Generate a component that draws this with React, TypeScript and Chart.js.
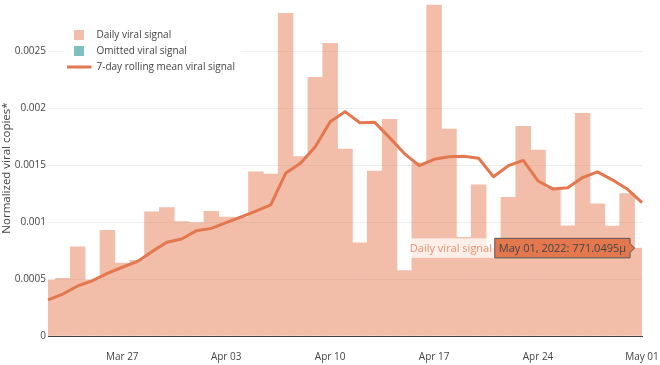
import React, { useEffect, useRef } from 'react';
import { Chart, registerables } from 'chart.js';

Chart.register(...registerables);

const dates = [
  '2022-03-22', '2022-03-23', '2022-03-24', '2022-03-25', '2022-03-26', '2022-03-27', '2022-03-28',
  '2022-03-29', '2022-03-30', '2022-03-31', '2022-04-01', '2022-04-02', '2022-04-03', '2022-04-04',
  '2022-04-05', '2022-04-06', '2022-04-07', '2022-04-08', '2022-04-09', '2022-04-10', '2022-04-11',
  '2022-04-12', '2022-04-13', '2022-04-14', '2022-04-15', '2022-04-16', '2022-04-17', '2022-04-18',
  '2022-04-19', '2022-04-20', '2022-04-21', '2022-04-22', '2022-04-23', '2022-04-24', '2022-04-25',
  '2022-04-26', '2022-04-27', '2022-04-28', '2022-04-29', '2022-04-30', '2022-05-01',
];

const dailySignal = [
  0.00049, 0.000506, 0.000783, 0.00049, 0.000927, 0.00064, 0.000664,
  0.00109, 0.001126, 0.001003, 0.000994, 0.001094, 0.001044, 0.001038,
  0.00144, 0.00142, 0.00283, 0.001573, 0.00227, 0.002567, 0.00164,
  0.000818, 0.001447, 0.0019, 0.000573, 0.00152, 0.0029035, 0.001816,
  0.000866, 0.001325, 0.00077, 0.001216, 0.00184, 0.00163, 0.0013,
  0.000967, 0.001953, 0.00116, 0.000965, 0.00125, 0.0007710495,
];

const rollingMean = [
  0.000316, 0.000368, 0.000439, 0.000485, 0.00055, 0.000603, 0.000652,
  0.00074, 0.000822, 0.000851, 0.000924, 0.000944, 0.000994, 0.001044,
  0.001096, 0.00115, 0.001427, 0.001515, 0.00166, 0.00188, 0.001968,
  0.001871, 0.001874, 0.00174, 0.0016, 0.001494, 0.00155, 0.001573,
  0.001576, 0.001559, 0.001397, 0.001494, 0.00154, 0.00136, 0.00129,
  0.0013, 0.00139, 0.00144, 0.00137, 0.00129, 0.00117,
];

const omittedSignal: (number | null)[] = [];

const tickDates = ['2022-03-27', '2022-04-03', '2022-04-10', '2022-04-17', '2022-04-24', '2022-05-01'];
const tickLabels = ['Mar 27', 'Apr 03', 'Apr 10', 'Apr 17', 'Apr 24', 'May 01'];

const yTicks = [0, 0.0005, 0.001, 0.0015, 0.002, 0.0025];
const yTickLabels = ['0', '0.0005', '0.001', '0.0015', '0.002', '0.0025'];

const monthNames = ['Jan', 'Feb', 'Mar', 'Apr', 'May', 'Jun', 'Jul', 'Aug', 'Sep', 'Oct', 'Nov', 'Dec'];

const LINE_COLOR = '#E3784F';
const BAR_COLOR = '#F2BEAA';
const TEAL = '#7CC0BF';
const TEXT = '#444';
const FONT = '"Open Sans", "Noto Sans", sans-serif';

function formatHoverDate(d: string) {
  const [y, m, day] = d.split('-');
  return `${monthNames[parseInt(m, 10) - 1]} ${day}, ${y}`;
}

const overlayPlugin = {
  id: 'overlay',
  // faint grid lines showing through the bars (drawn before the line dataset)
  beforeDatasetDraw(chart: any, args: any) {
    if (args.index !== 0) return;
    const ctx = chart.ctx as CanvasRenderingContext2D;
    const { left, right } = chart.chartArea;
    const ys = chart.scales.y;
    ctx.save();
    ctx.strokeStyle = 'rgba(0,0,0,0.04)';
    ctx.lineWidth = 1;
    yTicks.forEach((v) => {
      if (v === 0) return;
      const py = Math.round(ys.getPixelForValue(v)) + 0.5;
      ctx.beginPath();
      ctx.moveTo(left, py);
      ctx.lineTo(right, py);
      ctx.stroke();
    });
    ctx.restore();
  },
  afterDraw(chart: any) {
    const ctx = chart.ctx as CanvasRenderingContext2D;
    ctx.save();

    // Legend (inside plot, top-left)
    ctx.fillStyle = '#fff';
    ctx.fillRect(63, 25, 178, 50);
    const legendOrder = [1, 2, 0];
    const rowsY = [35, 51, 67];
    ctx.font = `10px ${FONT}`;
    ctx.textBaseline = 'middle';
    ctx.textAlign = 'left';
    legendOrder.forEach((di, r) => {
      const ds = chart.data.datasets[di];
      const y = rowsY[r];
      if (ds.type === 'line') {
        ctx.strokeStyle = ds.borderColor;
        ctx.lineWidth = 3;
        ctx.beginPath();
        ctx.moveTo(67, y);
        ctx.lineTo(91.5, y);
        ctx.stroke();
      } else {
        ctx.fillStyle = ds.backgroundColor;
        ctx.fillRect(74, y - 5, 10, 10);
      }
      ctx.fillStyle = TEXT;
      ctx.fillText(ds.label, 96.5, y);
    });

    // Hover label on the last bar
    const barIdx = 1;
    const meta = chart.getDatasetMeta(barIdx);
    const last = dailySignal.length - 1;
    const el = meta.data[last];
    if (el) {
      const p = el.getProps(['x', 'y', 'width'], true);
      const ax = p.x - p.width / 2;
      const ay = p.y;
      ctx.font = `11px ${FONT}`;
      const valText = `${formatHoverDate(dates[last])}: ${(dailySignal[last] * 1e6).toFixed(4)}\u00b5`;
      const tw = ctx.measureText(valText).width;
      const h = 19.5;
      const top = ay - h / 2;
      const boxR = ax - 4.5;
      const boxL = boxR - tw - 8;

      const name = chart.data.datasets[barIdx].label;
      const nw = ctx.measureText(name).width;
      const nameL = boxL - nw - 5.5;
      ctx.fillStyle = 'rgba(255,255,255,0.75)';
      ctx.fillRect(nameL, top, boxL - nameL, h);
      ctx.fillStyle = 'rgba(227,120,79,0.8)';
      ctx.fillText(name, nameL + 2.7, ay + 0.5);

      ctx.beginPath();
      ctx.moveTo(ax, ay);
      ctx.lineTo(boxR, ay - 4.5);
      ctx.lineTo(boxR, top);
      ctx.lineTo(boxL, top);
      ctx.lineTo(boxL, top + h);
      ctx.lineTo(boxR, top + h);
      ctx.lineTo(boxR, ay + 4.5);
      ctx.closePath();
      ctx.fillStyle = LINE_COLOR;
      ctx.fill();
      ctx.strokeStyle = '#555';
      ctx.lineWidth = 1;
      ctx.stroke();
      ctx.fillStyle = TEXT;
      ctx.fillText(valText, boxL + 4, ay + 0.5);
    }
    ctx.restore();
  },
};

export default function App() {
  const canvasRef = useRef<HTMLCanvasElement | null>(null);

  useEffect(() => {
    if (!canvasRef.current) return;
    const chart = new Chart(canvasRef.current, {
      type: 'bar',
      data: {
        labels: dates,
        datasets: [
          {
            type: 'line',
            label: '7-day rolling mean viral signal',
            data: rollingMean,
            borderColor: LINE_COLOR,
            backgroundColor: LINE_COLOR,
            borderWidth: 3,
            pointRadius: 0,
            pointHoverRadius: 0,
            tension: 0,
            fill: false,
            borderJoinStyle: 'round',
            order: 0,
          } as any,
          {
            type: 'bar',
            label: 'Daily viral signal',
            data: dailySignal,
            backgroundColor: BAR_COLOR,
            borderWidth: 0,
            barPercentage: 1,
            categoryPercentage: 1,
            grouped: false,
            order: 1,
          } as any,
          {
            type: 'bar',
            label: 'Omitted viral signal',
            data: omittedSignal,
            backgroundColor: TEAL,
            borderWidth: 0,
            barPercentage: 1,
            categoryPercentage: 1,
            grouped: false,
            order: 2,
          } as any,
        ],
      },
      options: {
        responsive: false,
        animation: false,
        devicePixelRatio: 1,
        layout: { padding: { top: 0, right: 18, bottom: 0, left: 0 } },
        plugins: {
          legend: { display: false },
          tooltip: { enabled: false },
        },
        events: [],
        scales: {
          x: {
            type: 'category',
            offset: false,
            grid: { display: false, drawTicks: false, offset: false },
            border: { display: true, color: TEXT, width: 1 },
            ticks: {
              autoSkip: false,
              maxRotation: 0,
              minRotation: 0,
              padding: 15,
              color: TEXT,
              font: { family: FONT, size: 10 },
              callback: (value: any) => {
                const i = tickDates.indexOf(dates[value as number]);
                return i >= 0 ? tickLabels[i] : '';
              },
            },
            afterBuildTicks: (scale: any) => {
              scale.ticks = scale.ticks.filter((t: any) => tickDates.includes(dates[t.value]));
            },
            afterFit: (scale: any) => {
              scale.height = 29;
              scale.paddingLeft = 0;
              scale.paddingRight = 0;
            },
          },
          y: {
            type: 'linear',
            min: 0,
            max: 0.0029474,
            grid: {
              drawTicks: false,
              color: (c: any) => (c.tick && c.tick.value === 0 ? TEXT : '#f7f7f7'),
              lineWidth: 1,
            },
            border: { display: false },
            ticks: {
              padding: 2,
              color: TEXT,
              font: { family: FONT, size: 10 },
              callback: (_v: any, index: number) => yTickLabels[index],
            },
            title: {
              display: true,
              text: 'Normalized viral copies*',
              color: TEXT,
              font: { family: FONT, size: 11.5 },
              padding: { top: 0, bottom: 0 },
            },
            afterBuildTicks: (scale: any) => {
              scale.ticks = yTicks.map((v) => ({ value: v }));
            },
            afterFit: (scale: any) => {
              scale.width = 48;
              scale.paddingTop = 0;
              scale.paddingBottom = 0;
            },
          },
        },
      } as any,
      plugins: [overlayPlugin],
    });
    return () => chart.destroy();
  }, []);

  return (
    <div style={{ position: 'absolute', left: 0, top: 0, width: 660, height: 365, background: '#fff' }}>
      <canvas ref={canvasRef} width={660} height={365} style={{ display: 'block', width: 660, height: 365 }} />
    </div>
  );
}
